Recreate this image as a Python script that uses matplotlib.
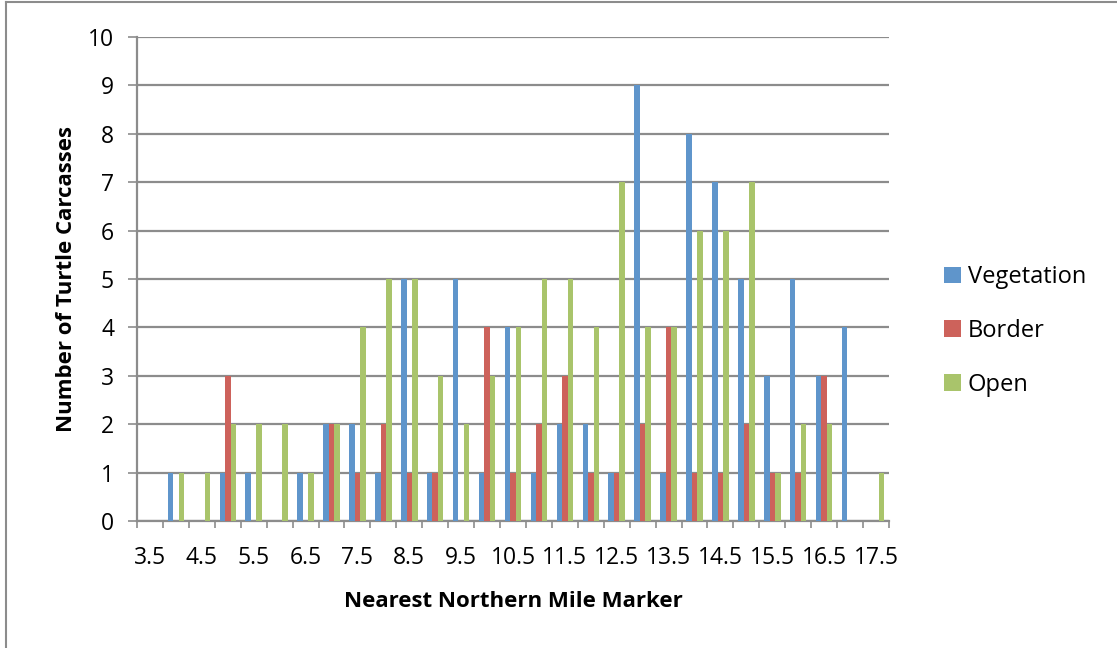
import numpy as np
import matplotlib
matplotlib.use('Agg')
from matplotlib import pyplot as plt
from matplotlib.lines import Line2D

# mile markers, 3.5 .. 17.5 in half-mile steps
markers = ['3.5', '4', '4.5', '5', '5.5', '6', '6.5', '7', '7.5', '8', '8.5', '9', '9.5', '10',
           '10.5', '11', '11.5', '12', '12.5', '13', '13.5', '14', '14.5', '15', '15.5', '16',
           '16.5', '17', '17.5']
vegetation = [0, 1, 0, 1, 1, 0, 1, 2, 2, 1, 5, 1, 5, 1, 4, 1, 2, 2, 1, 9, 1, 8, 7, 5, 3, 5, 3, 4, 0]
border = [0, 0, 0, 3, 0, 0, 0, 2, 1, 2, 1, 1, 0, 4, 1, 2, 3, 1, 1, 2, 4, 1, 1, 2, 1, 1, 3, 0, 0]
open_ = [0, 1, 1, 2, 2, 2, 1, 2, 4, 5, 5, 3, 2, 3, 4, 5, 5, 4, 7, 4, 4, 6, 6, 7, 1, 2, 2, 0, 1]

plt.rcParams['font.family'] = ['Open Sans', 'DejaVu Sans']

fig = plt.figure(figsize=(11.17, 6.48), dpi=100)
ax = fig.add_axes([137/1117, 1 - 521/648, 752/1117, 484/648])

x = np.arange(len(markers))
w = 0.212
colors = ['#5f95cb', '#cd625b', '#a9c46b']
ax.bar(x - w, vegetation, w, color=colors[0], label='Vegetation', zorder=3)
ax.bar(x, border, w, color=colors[1], label='Border', zorder=3)
ax.bar(x + w, open_, w, color=colors[2], label='Open', zorder=3)

ax.set_xlim(-0.5, len(markers) - 0.5)
ax.set_ylim(0, 10)
ax.set_yticks(np.arange(0, 11, 1))
ax.yaxis.grid(True, color='#8c8c8c', linewidth=1.6, zorder=0)

ax.set_xticks(x[::2])
ax.set_xticklabels(markers[::2])
ax.set_xticks(np.arange(-0.5, len(markers), 1), minor=True)
ax.tick_params(axis='x', which='major', length=0, pad=18, labelsize=16.5)
ax.tick_params(axis='x', which='minor', length=5, width=1.2, color='#8c8c8c')
ax.tick_params(axis='y', length=6.5, width=1.2, color='#8c8c8c', labelsize=16.5, pad=10)

for s in ['top', 'right']:
    ax.spines[s].set_visible(False)
for s in ['left', 'bottom']:
    ax.spines[s].set_color('#8c8c8c')
    ax.spines[s].set_linewidth(1.6)

ax.set_xlabel('Nearest Northern Mile Marker', fontsize=16, fontweight='bold', labelpad=15)
ax.set_ylabel('Number of Turtle Carcasses', fontsize=16, fontweight='bold', labelpad=8)

fig.legend(loc='center left', bbox_to_anchor=(923/1117, 1 - 331/648), frameon=False,
           fontsize=17, handlelength=0.7, handleheight=0.7, handletextpad=0.3,
           labelspacing=1.25)

# outer frame, only top and left edges are visible
fig.add_artist(Line2D([5.5/1117, 5.5/1117], [0, 1 - 2/648], color='#8c8c8c', linewidth=1.5))
fig.add_artist(Line2D([5.5/1117, 1], [1 - 2/648, 1 - 2/648], color='#8c8c8c', linewidth=1.5))

fig.savefig('out.png', dpi=100)
